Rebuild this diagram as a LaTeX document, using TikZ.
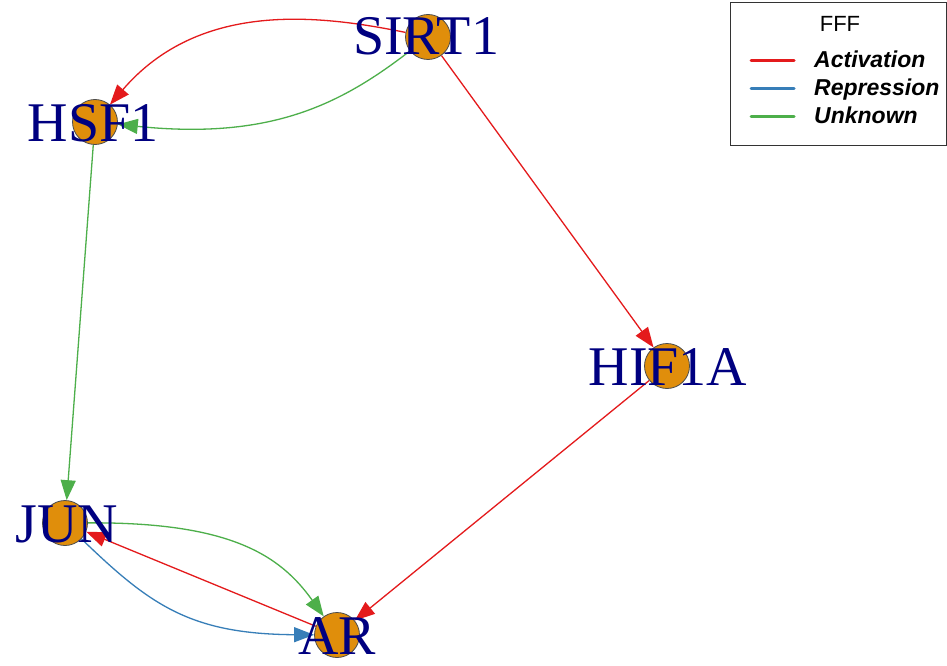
\documentclass[tikz,border=0pt]{standalone}
\usepackage{fontspec}
\setmainfont{Liberation Serif}
\newfontfamily\legfont{Liberation Sans}
\usetikzlibrary{arrows.meta,backgrounds}
\definecolor{actc}{HTML}{E41A1C}
\definecolor{repc}{HTML}{377EB8}
\definecolor{unkc}{HTML}{4DAF4A}
\definecolor{nodefill}{HTML}{E08E0B}
\definecolor{labc}{HTML}{000080}
\tikzset{
  gnode/.style={circle,draw=black!70,fill=nodefill,line width=0.8pt,minimum size=45pt,inner sep=0pt},
  glabel/.style={anchor=base,text=labc,font=\fontsize{56}{60}\selectfont,inner sep=0pt},
  edge/.style={line width=1.3pt,-{Triangle[length=20pt,width=15pt]}},
  act/.style={edge,color=actc},
  rep/.style={edge,color=repc},
  unk/.style={edge,color=unkc},
  legline/.style={line width=3pt,line cap=round},
  legtext/.style={anchor=base west,font=\legfont\fontsize{23}{25}\selectfont\bfseries\itshape,inner sep=0pt}
}
\begin{document}
\begin{tikzpicture}[x=1pt,y=-1pt]
\useasboundingbox (0,0) rectangle (947,666);
% nodes
\node[gnode] (SIRT1) at (428,37) {};
\node[gnode] (HSF1) at (95,122) {};
\node[gnode] (HIF1A) at (667,366) {};
\node[gnode] (JUN) at (65,523) {};
\node[gnode] (AR) at (337,635) {};
% edges
\begin{scope}[on background layer]
\fill[white] (0,0) rectangle (947,666);
\draw[act] (SIRT1) .. controls (320,15) and (200,0) .. (HSF1);
\draw[unk] (SIRT1) .. controls (340,105) and (270,140) .. (HSF1);
\draw[act] (SIRT1) -- (HIF1A);
\draw[unk] (HSF1) -- (JUN);
\draw[act] (HIF1A) -- (AR);
\draw[unk] (JUN) .. controls (230,522) and (280,555) .. (AR);
\draw[rep] (JUN) .. controls (150,605) and (190,634) .. (AR);
\draw[act] (AR) -- (JUN);
\end{scope}
% labels
\node[glabel] (SIRT1l) at (426,55) {SIRT1};
\node[glabel] (HSF1l) at (93,141) {HSF1};
\node[glabel] (HIF1Al) at (668,385) {HIF1A};
\node[glabel] (JUNl) at (67,542) {JUN};
\node[glabel] (ARl) at (337,654) {AR};
% legend
\draw[black!80,line width=1pt] (730,3) rectangle (946,145);
\node[anchor=base,font=\legfont\fontsize{22}{24}\selectfont,inner sep=0pt] (legtitle) at (840,32) {FFF};
\coordinate (la1) at (751,61); \coordinate (la2) at (794,61);
\coordinate (lr1) at (751,89); \coordinate (lr2) at (794,89);
\coordinate (lu1) at (751,117); \coordinate (lu2) at (794,117);
\draw[legline,actc] (la1) -- (la2);
\draw[legline,repc] (lr1) -- (lr2);
\draw[legline,unkc] (lu1) -- (lu2);
\node[legtext] (lat) at (814,68) {Activation};
\node[legtext] (lrt) at (814,96) {Repression};
\node[legtext] (lut) at (814,124) {Unknown};
\end{tikzpicture}
\end{document}
